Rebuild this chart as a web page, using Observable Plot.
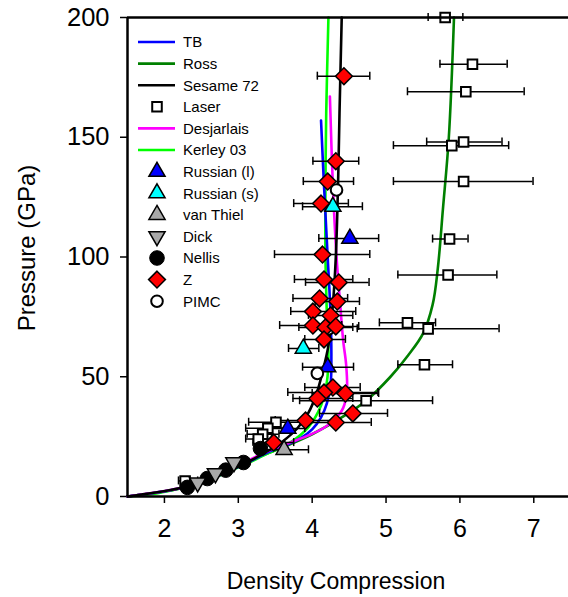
<!DOCTYPE html>
<html>
<head>
<meta charset="utf-8">
<script src="https://cdn.jsdelivr.net/npm/d3@7"></script>
<script src="https://cdn.jsdelivr.net/npm/@observablehq/plot@0.6"></script>
<style>
  html, body { margin: 0; padding: 0; background: white; overflow: hidden; }
  #wrap { position: relative; width: 568px; height: 597px; }
  #wrap svg { position: absolute; left: 0; top: 0; }
</style>
</head>
<body>
<div id="wrap"></div>
<script>
// ---------- data ----------
const xTicks = [2, 3, 4, 5, 6, 7];
const yTicks = [0, 50, 100, 150, 200];

// model curves: [density compression, pressure GPa]
const tbCurve = [[1.5,0],[2.2,3.3],[2.6,7],[3.1,13.8],[3.4,18.5],[3.65,21.5],[3.85,24.5],[4.0,28],[4.12,33],[4.2,39],[4.25,47],[4.26,58],[4.25,75],[4.21,100],[4.16,130],[4.12,157]];
const rossCurve = [[1.5,0],[2.2,3.2],[2.6,6.8],[3.2,15.5],[3.6,20.5],[4.0,26],[4.4,33],[4.73,40],[5.06,50],[5.3,59],[5.5,68],[5.63,80],[5.7,95],[5.77,120],[5.85,150],[5.92,200]];
const sesameCurve = [[1.5,0],[2.2,3.4],[2.6,7.2],[3.1,14],[3.4,19],[3.6,23],[3.8,28.5],[3.95,35],[4.06,43],[4.14,52],[4.22,63],[4.28,80],[4.32,100],[4.35,130],[4.37,160],[4.40,200]];
const desjCurve = [[1.5,0],[2.2,3.4],[2.6,7.2],[3.1,14.5],[3.4,19],[3.7,22.5],[3.95,25.5],[4.15,28.5],[4.3,32],[4.42,37],[4.47,44],[4.46,55],[4.42,65],[4.38,80],[4.33,100],[4.28,130],[4.24,167]];
const kerleyCurve = [[1.5,0],[1.8,0.8],[2.2,3.3],[2.6,7],[3.1,13.5],[3.4,18],[3.7,22.5],[3.95,29],[4.12,38],[4.2,48],[4.22,58],[4.2,75],[4.18,100],[4.18,130],[4.19,160],[4.22,200]];

// experimental points: [x, P, xLow, xHigh]
const laser = [[5.80,200,5.57,6.04],[6.17,180.5,5.73,6.64],[6.08,169,5.29,6.87],[6.05,148,5.55,6.57],[5.89,146.5,5.10,6.66],[6.05,131.5,5.10,6.99],[5.86,107.5,5.63,6.11],[5.84,92.5,5.16,6.50],[5.29,72.5,4.91,5.67],[5.57,70,4.61,6.53],[5.52,55,5.16,5.90],[4.73,40,3.83,5.63],[3.51,31,3.14,3.88],[3.40,28.5,3.10,3.70],[3.33,26,3.12,3.55],[3.27,24,3.10,3.45],[2.28,6.5,2.19,2.45]];
const zData = [[4.43,175.5,4.07,4.78],[4.32,140,4.01,4.63],[4.21,131.5,3.88,4.56],[4.12,122.3,3.75,4.49],[4.14,101,3.49,4.78],[4.16,90.6,3.76,4.55],[4.36,89.4,3.91,4.77],[4.10,82.7,3.74,4.48],[4.34,81.4,4.04,4.64],[4.01,77.2,3.71,4.59],[4.25,75.6,3.95,4.55],[4.01,71.4,3.56,4.40],[4.18,70.6,3.82,4.55],[4.32,71,4.00,4.63],[4.16,65.6,3.90,4.45],[4.28,45.5,3.90,4.65],[4.16,43.4,3.67,4.89],[4.07,40.9,3.74,4.55],[4.45,43,4.00,4.90],[4.55,34.7,4.10,5.02],[4.32,30.9,3.90,4.80],[3.91,31.7,3.50,4.30],[3.48,22.5,3.20,3.75]];
const russianL = [[4.51,107.7,4.09,4.90],[4.21,54,3.87,4.56],[3.67,28.4,3.45,3.90]];
const russianS = [[4.28,121,3.87,4.68],[3.88,61.8,3.68,4.09]];
const vanThiel = [[3.62,19.5,3.26,3.95]];
const dick = [[2.45,5.8],[2.69,9.6],[2.94,14.2]];
const nellis = [[2.31,3.8],[2.58,7.5],[2.83,11],[3.07,14.2],[3.30,20]];
const pimc = [[4.33,128],[4.07,51.4],[4.22,70]];

const legendItems = ["TB","Ross","Sesame 72","Laser","Desjarlais","Kerley 03","Russian (l)","Russian (s)","van Thiel","Dick","Nellis","Z","PIMC"];

// ---------- styles ----------
const triDown = {
  draw(ctx, size) {
    const y = -Math.sqrt(size / (3 * Math.sqrt(3)));
    ctx.moveTo(0, -y * 2);
    ctx.lineTo(-Math.sqrt(3) * y, y);
    ctx.lineTo(Math.sqrt(3) * y, y);
    ctx.closePath();
  }
};
const lineStyle = {
  "TB": {stroke: "#0000ff"},
  "Ross": {stroke: "#008000"},
  "Sesame 72": {stroke: "#000000"},
  "Desjarlais": {stroke: "#ff00ff"},
  "Kerley 03": {stroke: "#00ff00"}
};
const dotStyle = {
  "Laser": {symbol: d3.symbolSquare, fill: "white", r: 5.4, sw: 2},
  "Russian (l)": {symbol: d3.symbolTriangle, fill: "#0000ff", r: 6, sw: 1.5},
  "Russian (s)": {symbol: d3.symbolTriangle, fill: "#00ffff", r: 6, sw: 1.5},
  "van Thiel": {symbol: d3.symbolTriangle, fill: "#a8a8a8", r: 6, sw: 1.5},
  "Dick": {symbol: triDown, fill: "#a8a8a8", r: 6, sw: 1.5},
  "Nellis": {symbol: d3.symbolCircle, fill: "#000000", r: 7.3, sw: 1},
  "Z": {symbol: d3.symbolDiamond2, fill: "#ff0000", r: 7.6, sw: 1.5},
  "PIMC": {symbol: d3.symbolCircle, fill: "white", r: 5.8, sw: 2}
};

const X = d => d[0], P = d => d[1], LO = d => d[2], HI = d => d[3];

function curve(data, name) {
  return Plot.line(data, {x: X, y: P, stroke: lineStyle[name].stroke, strokeWidth: 2.6, curve: "catmull-rom"});
}
function errBars(data) {
  return [
    Plot.ruleY(data, {y: P, x1: LO, x2: HI, stroke: "black", strokeWidth: 1.5}),
    Plot.ruleX(data, {x: LO, y1: P, y2: P, insetTop: -4, insetBottom: -4, stroke: "black", strokeWidth: 1.5}),
    Plot.ruleX(data, {x: HI, y1: P, y2: P, insetTop: -4, insetBottom: -4, stroke: "black", strokeWidth: 1.5})
  ];
}
function dots(data, name) {
  const s = dotStyle[name];
  return Plot.dot(data, {x: X, y: P, symbol: s.symbol, r: s.r, fill: s.fill, stroke: "black", strokeWidth: s.sw});
}

const FONT = "'Liberation Sans', Arial, Helvetica, sans-serif";

const chart = Plot.plot({
  width: 568,
  height: 597,
  marginLeft: 127,
  marginRight: 0,
  marginTop: 17,
  marginBottom: 101,
  style: {fontFamily: FONT, fontSize: "25px", background: "white", color: "black"},
  x: {domain: [1.5, 7.47], label: null},
  y: {domain: [0, 200], label: null},
  marks: [
    Plot.axisX({ticks: xTicks, tickSize: 7, tickPadding: 16, tickFormat: d => String(d), fontSize: 25, strokeWidth: 1.5}),
    Plot.axisY({ticks: yTicks, tickSize: 7, tickPadding: 11, tickFormat: d => String(d), fontSize: 25.5, strokeWidth: 1.5}),
    curve(rossCurve, "Ross"),
    curve(kerleyCurve, "Kerley 03"),
    curve(tbCurve, "TB"),
    curve(desjCurve, "Desjarlais"),
    curve(sesameCurve, "Sesame 72"),
    ...errBars(laser),
    ...errBars(russianL),
    ...errBars(russianS),
    ...errBars(vanThiel),
    ...errBars(zData),
    dots(laser, "Laser"),
    dots(nellis, "Nellis"),
    dots(dick, "Dick"),
    dots(vanThiel, "van Thiel"),
    dots(russianS, "Russian (s)"),
    dots(russianL, "Russian (l)"),
    dots(pimc, "PIMC"),
    dots(zData, "Z"),
    Plot.ruleY([0], {stroke: "black", strokeWidth: 2.5}),
    Plot.ruleY([200], {stroke: "black", strokeWidth: 2.5}),
    Plot.ruleX([1.5], {stroke: "black", strokeWidth: 2.5})
  ]
});

const wrap = document.getElementById("wrap");
wrap.appendChild(chart);

// ---------- legend + axis titles overlay ----------
const ov = d3.select(wrap).append("svg")
  .attr("width", 568).attr("height", 597)
  .style("pointer-events", "none")
  .style("font-family", FONT);

const rowY0 = 42, rowStep = 21.6;
legendItems.forEach((name, i) => {
  const y = rowY0 + i * rowStep;
  const g = ov.append("g");
  if (lineStyle[name]) {
    g.append("line").attr("x1", 138).attr("x2", 175).attr("y1", y).attr("y2", y)
      .attr("stroke", lineStyle[name].stroke).attr("stroke-width", 2.6);
  } else {
    const s = dotStyle[name];
    g.append("path")
      .attr("d", d3.symbol(s.symbol, Math.PI * s.r * s.r)())
      .attr("transform", `translate(157,${y})`)
      .attr("fill", s.fill).attr("stroke", "black").attr("stroke-width", s.sw);
  }
  g.append("text").attr("x", 183).attr("y", y).attr("dy", "0.36em")
    .attr("font-size", 15).attr("fill", "black").text(name);
});

ov.append("text")
  .attr("transform", "translate(35,248) rotate(-90)")
  .attr("text-anchor", "middle").attr("font-size", 24).attr("fill", "black")
  .text("Pressure (GPa)");
ov.append("text")
  .attr("x", 336).attr("y", 589)
  .attr("text-anchor", "middle").attr("font-size", 23).attr("fill", "black")
  .text("Density Compression");
</script>
</body>
</html>
